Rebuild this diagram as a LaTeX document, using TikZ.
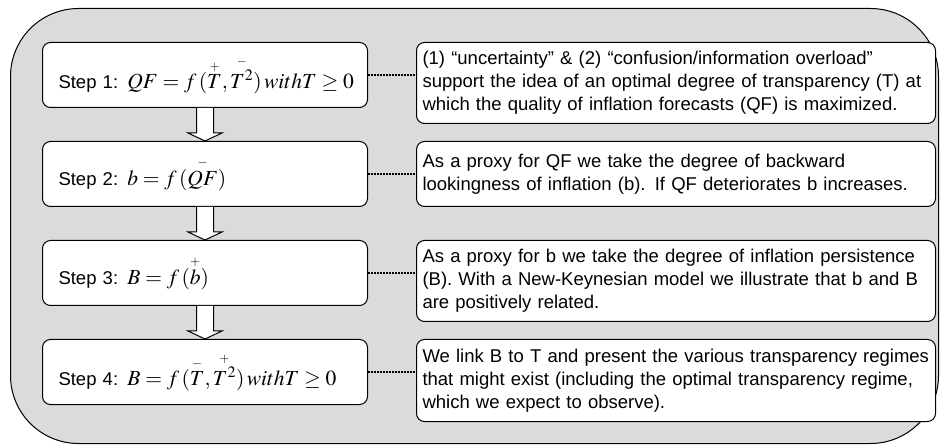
\documentclass[tikz,border=0pt]{standalone}
\usepackage{amsmath}
\usepackage{mathptmx}
\usepackage[no-math]{fontspec}
\setmainfont{Liberation Sans}
\usetikzlibrary{positioning,calc}

\newcommand{\eqsize}{\fontsize{21.5}{24}\selectfont}
\newcommand{\sgn}[1]{\scriptscriptstyle #1}

\begin{document}
\begin{tikzpicture}[x=1pt, y=1pt,
  every node/.style={font=\fontsize{18.5}{23}\selectfont},
  stepbox/.style={draw, line width=1pt, rounded corners=8pt, fill=white,
    minimum width=325pt, minimum height=65pt, text width=293pt, inner xsep=16pt,
    align=left},
  notebox/.style={draw, line width=1pt, rounded corners=8pt, fill=white,
    text width=507pt, inner xsep=6pt, align=left},
  link/.style={black, line width=2.2pt, dash pattern=on 2pt off 1pt},
  blockarrow/.style={draw, fill=white, line width=1pt}]
\useasboundingbox (0,0) rectangle (940,-446);

% grey frame
\node[draw, line width=1pt, fill=black!14, rounded corners=68pt, inner sep=0pt,
  minimum width=928pt, minimum height=435pt, anchor=north west] (frame) at (10,-8) {};

% steps
\node[stepbox, anchor=north west] (s1) at (42,-42)
  {\mbox{Step 1: {\eqsize$QF=f\,(\overset{\sgn{+}}{T},\overset{\sgn{-}}{T^{2}})\,withT\geq 0$}}};
\node[stepbox, below=33pt of s1] (s2)
  {\mbox{Step 2: {\eqsize$b=f\,(\overset{\sgn{-}}{QF})$}}};
\node[stepbox, below=33pt of s2] (s3)
  {\mbox{Step 3: {\eqsize$B=f\,(\overset{\sgn{+}}{b})$}}};
\node[stepbox, below=33pt of s3] (s4)
  {\mbox{Step 4: {\eqsize$B=f\,(\overset{\sgn{-}}{T},\overset{\sgn{+}}{T^{2}})\,withT\geq 0$}}};

% explanations
\node[notebox, minimum height=81pt, below right=0pt and 48pt of s1.north east] (n1)
  {(1) “uncertainty” \& (2) “confusion/information overload”\\
   support the idea of an optimal degree of transparency (T) at\\
   which the quality of inflation forecasts (QF) is maximized.};
\node[notebox, minimum height=65pt, below right=0pt and 48pt of s2.north east] (n2)
  {As a proxy for QF we take the degree of backward\\
   lookingness of inflation (b). If QF deteriorates b increases.};
\node[notebox, minimum height=81pt, below right=0pt and 48pt of s3.north east] (n3)
  {As a proxy for b we take the degree of inflation persistence\\
   (B). With a New-Keynesian model we illustrate that b and B\\
   are positively related.};
\node[notebox, minimum height=82pt, below right=0pt and 48pt of s4.north east] (n4)
  {We link B to T and present the various transparency regimes\\
   that might exist (including the optimal transparency regime,\\
   which we expect to observe).};

% dotted links
\draw[link] (s1.east) -- (n1.west |- s1.east);
\draw[link] (s2.east) -- (n2.west |- s2.east);
\draw[link] (s3.east) -- (n3.west |- s3.east);
\draw[link] (s4.east) -- (n4.west |- s4.east);

% hollow arrows between steps
\foreach \a/\b in {s1/s2,s2/s3,s3/s4}
  \draw[blockarrow] ([xshift=-8.5pt]\a.south) -- ([xshift=-8.5pt,yshift=8pt]\b.north)
    -- ([xshift=-17pt,yshift=8pt]\b.north) -- (\b.north)
    -- ([xshift=17pt,yshift=8pt]\b.north) -- ([xshift=8.5pt,yshift=8pt]\b.north)
    -- ([xshift=8.5pt]\a.south);
\end{tikzpicture}
\end{document}
